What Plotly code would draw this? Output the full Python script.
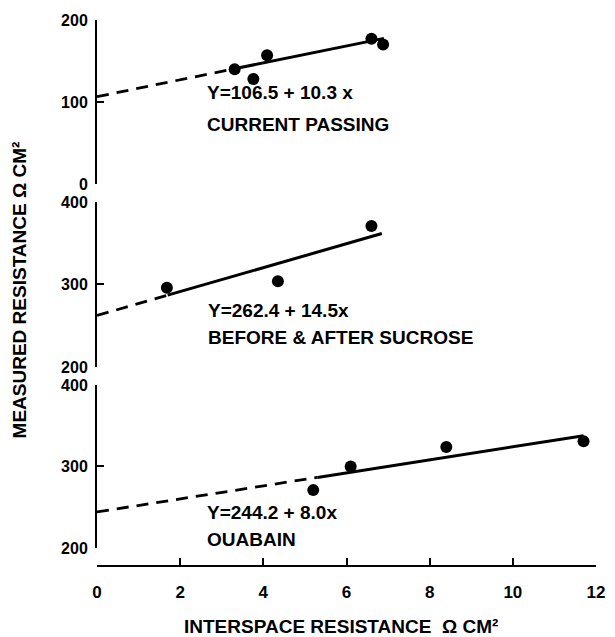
import plotly.graph_objects as go

# ---- data ----
x_ticks = [0, 2, 4, 6, 8, 10, 12]

cur_x = [3.31, 3.76, 4.09, 6.60, 6.88]
cur_y = [140, 128, 157, 177, 170]
cur_fit = (106.5, 10.3)
cur_solid = [3.3, 6.9]

suc_x = [1.68, 4.35, 6.60]
suc_y = [296, 304, 371]
suc_fit = (262.4, 14.5)
suc_solid = [1.7, 6.85]

oua_x = [5.2, 6.1, 8.4, 11.7]
oua_y = [271, 300, 324, 331]
oua_fit = (244.2, 8.0)
oua_solid = [5.3, 11.7]

labels_eq = ["Y=106.5 + 10.3 x", "Y=262.4 + 14.5x", "Y=244.2 + 8.0x"]
labels_name = ["CURRENT PASSING", "BEFORE & AFTER SUCROSE", "OUABAIN"]

FONT = "Liberation Sans, Arial"
fig = go.Figure()

panels = [
    ("y", cur_x, cur_y, cur_fit, cur_solid),
    ("y2", suc_x, suc_y, suc_fit, suc_solid),
    ("y3", oua_x, oua_y, oua_fit, oua_solid),
]
for ya, xs, ys, (a, b), (s0, s1) in panels:
    fig.add_trace(go.Scatter(x=[0, s0], y=[a, a + b * s0], mode="lines", yaxis=ya,
                             line=dict(color="black", width=2.8, dash="12px,8px"),
                             showlegend=False, hoverinfo="skip"))
    fig.add_trace(go.Scatter(x=[s0, s1], y=[a + b * s0, a + b * s1], mode="lines", yaxis=ya,
                             line=dict(color="black", width=3),
                             showlegend=False, hoverinfo="skip"))
    fig.add_trace(go.Scatter(x=xs, y=ys, mode="markers", yaxis=ya,
                             marker=dict(color="black", size=12),
                             showlegend=False))

ytickfont = dict(family=FONT, size=16, color="black", weight="bold")
xtickfont = dict(family=FONT, size=17, color="black", weight="bold")
yax_common = dict(anchor="x", showgrid=False, zeroline=False, showline=True,
                  linecolor="black", linewidth=2, ticks="inside", ticklen=7,
                  tickwidth=2, tickcolor="black", tickfont=ytickfont, ticklabelstandoff=4)

fig.update_layout(
    width=615, height=637,
    margin=dict(l=97, r=10, t=20, b=71),
    plot_bgcolor="white", paper_bgcolor="white",
    xaxis=dict(range=[0, 12], tickvals=x_ticks, anchor="free", position=0,
               showgrid=False, zeroline=False, showline=True, linecolor="black",
               linewidth=2, ticks="inside", ticklen=7, tickwidth=2, tickcolor="black",
               tickfont=xtickfont, ticklabelstandoff=11),
    yaxis=dict(domain=[0.6996, 1.0], range=[0, 200], tickvals=[0, 100, 200], **yax_common),
    yaxis2=dict(domain=[0.3645, 0.6667], range=[200, 400], tickvals=[200, 300, 400], **yax_common),
    yaxis3=dict(domain=[0.033, 0.3315], range=[200, 400], tickvals=[200, 300, 400], **yax_common),
)

annfont = dict(family=FONT, size=19, color="black", weight="bold")
ann_pos = [("y", 2.6, 111, 73), ("y2", 2.62, 268, 236), ("y3", 2.6, 244, 210)]
for (ya, xx, y1, y2), eq, nm in zip(ann_pos, labels_eq, labels_name):
    fig.add_annotation(x=xx, y=y1, xref="x", yref=ya, text=eq, showarrow=False,
                       xanchor="left", yanchor="middle", font=annfont)
    fig.add_annotation(x=xx, y=y2, xref="x", yref=ya, text=nm, showarrow=False,
                       xanchor="left", yanchor="middle", font=annfont)

titlefont = dict(family=FONT, size=19, color="black", weight="bold")
fig.add_annotation(xref="paper", yref="paper", x=(18 - 97) / 508, y=(566 - 290) / 546,
                   text="MEASURED RESISTANCE Ω CM²", showarrow=False, textangle=-90,
                   xanchor="center", yanchor="middle", font=titlefont)
fig.add_annotation(xref="paper", yref="paper", x=(345 - 97) / 508, y=(566 - 626) / 546,
                   text="INTERSPACE RESISTANCE  Ω CM²", showarrow=False,
                   xanchor="center", yanchor="middle", font=titlefont)

fig.write_html("out.html")
